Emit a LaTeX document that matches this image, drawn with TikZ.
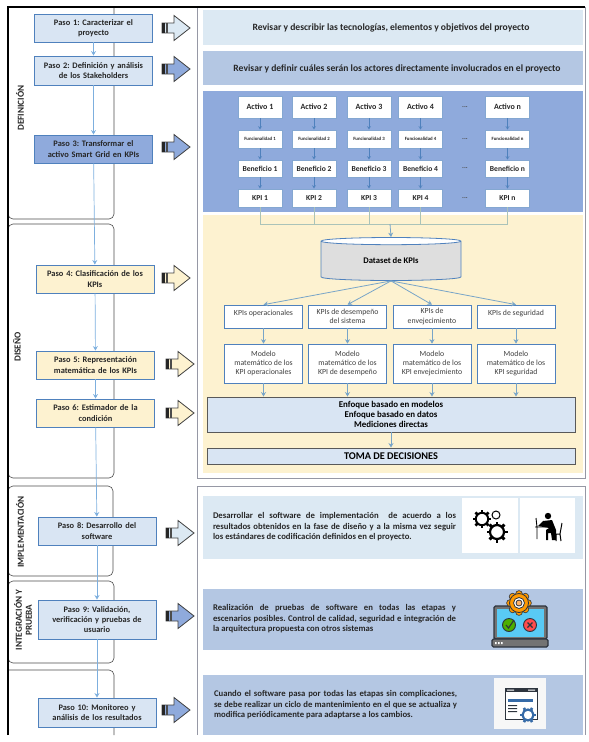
\documentclass[tikz,border=0pt]{standalone}
\usepackage{fontspec}
\setmainfont{Carlito}
\usepackage{tikz}
\usetikzlibrary{shapes.geometric, arrows.meta}
\definecolor{lightb}{RGB}{220, 233, 243}
\definecolor{midb}{RGB}{180, 199, 227}
\definecolor{darkb}{RGB}{143, 170, 220}
\definecolor{lighty}{RGB}{253, 242, 208}
\definecolor{stepb}{RGB}{217, 229, 243}
\definecolor{edge}{RGB}{79, 129, 189}
\definecolor{flow}{RGB}{125, 175, 222}
\definecolor{teal}{RGB}{120, 165, 200}
\definecolor{collect}{RGB}{170, 195, 185}
\definecolor{frame}{RGB}{150, 152, 165}
\definecolor{ink}{RGB}{38, 38, 38}
\definecolor{icondark}{RGB}{45, 52, 62}

\begin{document}
\frenchspacing
\begin{tikzpicture}[
   x=1pt, y=-1pt,
   lane/.style={draw=black!70, line width=0.6, rounded corners=5},
   panel/.style={inner sep=0, anchor=north west},
   paneltxt/.style={font=\fontsize{9.6}{11}\selectfont\bfseries, text=ink},
   justtxt/.style={font=\fontsize{8.7}{10.5}\selectfont\bfseries, text=ink, text width=243,
                    align=justify, inner sep=0},
   stepbox/.style={draw=edge, line width=0.9, text=ink, text width=115, align=center, inner sep=0,
                   minimum width=118, font=\fontsize{8.4}{10.2}\selectfont\bfseries},
   lanetxt/.style={rotate=90, align=center, text=ink, inner sep=0,
                   font=\fontsize{9.2}{10}\selectfont\bfseries},
   smallbox/.style={draw=edge!70, fill=white, line width=0.7, text=ink, inner sep=0, minimum width=44},
   typebox/.style={draw=edge, fill=white, line width=0.7, text=black!75, inner sep=0, align=center,
                   minimum width=78, font=\fontsize{7.8}{9.4}\selectfont},
   widebox/.style={draw=black!65, fill=stepb, line width=0.9, inner sep=0, align=center,
                   minimum width=368, text=black, font=\fontsize{8.9}{10.3}\selectfont\bfseries},
   flowline/.style={-{Stealth[length=4.5pt, width=5pt]}, color=flow, line width=0.7},
   smallline/.style={-{Stealth[open, fill=white, length=3.5pt, width=4pt]}, color=edge, line width=0.6},
   greenline/.style={-{Stealth[length=4.5pt, width=5pt]}, color=teal, line width=0.8},
   gearicon/.pic={
     \draw[line width=#1*0.32] (0,0) circle (#1);
     \foreach \a in {0,45,...,315} {
       \draw[line width=#1*0.42] (\a:#1) -- (\a:{#1*1.5});
     }
   }
  ]

  \useasboundingbox (0, 0) rectangle (589, 742);

  % Swim lanes
  \draw[lane] (8, -10) rectangle (114, 219);
  \draw[lane] (8, 224) rectangle (114, 478);
  \draw[lane] (8, 486) rectangle (113, 576);
  \draw[lane] (8, 581) rectangle (114, 663);
  \draw[lane] (8, 670) -- (114, 670) -- (114, 735);
  \fill[white] (0, -12) rectangle (120, 6);
  \fill[white] (0, 0) rectangle (7.5, 742);

  % Frames
  \draw[frame, line width=1.0] (197, 7) -- (197, 478) -- (585, 478) -- (585, 7);
  \draw[frame, line width=1.0] (197, 735) -- (197, 486) -- (585, 486) -- (585, 735);
  \draw[black, line width=1.1] (8, 735) -- (8, 7) -- (585, 7);

  % Panels
  \node (R1) at (203, 10) [panel, fill=lightb, minimum width=380, minimum height=35] {};
  \node (R2) at (203, 51) [panel, fill=midb, minimum width=380, minimum height=34] {};
  \node (R3) at (203, 91) [panel, fill=darkb, minimum width=380, minimum height=121] {};
  \node (R4) at (203, 215) [panel, fill=lighty, minimum width=380, minimum height=258] {};
  \node (R5) at (203, 496) [panel, fill=lightb, minimum width=380, minimum height=63] {};
  \node (R6) at (203, 589) [panel, fill=midb, minimum width=380, minimum height=61] {};
  \node (R7) at (203, 675) [panel, fill=midb, minimum width=380, minimum height=60] {};

  \node (T1) at (391, 28) [paneltxt] {Revisar y describir las tecnologías, elementos y objetivos del proyecto};
  \node (T2) at (397, 69) [paneltxt] {Revisar y definir cuáles serán los actores directamente involucrados en el proyecto};
  \node (T5) at (334.5, 527) [justtxt] {Desarrollar el software de implementación \ de acuerdo a los\linebreak
    resultados obtenidos en la fase de diseño y a la misma vez seguir\linebreak
    los estándares de codificación definidos en el proyecto.};
  \node (T6) at (334.5, 619) [justtxt] {Realización de pruebas de software en todas las etapas y\linebreak
    escenarios posibles. Control de calidad, seguridad e integración de\linebreak
    la arquitectura propuesta con otros sistemas};
  \node (T7) at (335.5, 705) [justtxt] {Cuando el software pasa por todas las etapas sin complicaciones,\linebreak
    se debe realizar un ciclo de mantenimiento en el que se actualiza y\linebreak
    modifica periódicamente para adaptarse a los cambios.};

  % Steps
  \node (P1) at (93.5, 28) [stepbox, fill=stepb, minimum height=28] {Paso 1: Caracterizar el\\proyecto};
  \node (P2) at (93.5, 70.5) [stepbox, fill=stepb, minimum height=29] {Paso 2: Definición y análisis\\de los Stakeholders};
  \node (P3) at (93.5, 149) [stepbox, fill=darkb, minimum height=28] {Paso 3: Transformar el\\activo Smart Grid en KPIs};
  \node (P4) at (95, 279) [stepbox, fill=lighty, minimum height=28] {Paso 4: Clasificación de los\\KPIs};
  \node (P5) at (95.5, 365) [stepbox, fill=lighty, minimum height=28] {Paso 5: Representación\\matemática de los KPIs};
  \node (P6) at (95.5, 413) [stepbox, fill=lighty, minimum height=28] {Paso 6: Estimador de la\\condición};
  \node (P8) at (97, 531) [stepbox, fill=stepb, minimum height=28] {Paso 8: Desarrollo del\\software};
  \node (P9) at (97, 619.5) [stepbox, fill=stepb, minimum height=39] {Paso 9: Validación,\\verificación y pruebas de\\usuario};
  \node (P10) at (97, 712.5) [stepbox, fill=stepb, minimum height=29] {Paso 10: Monitoreo y\\análisis de los resultados};

  \foreach \B/\E in {P1/P2, P2/P3, P3/P4, P4/P5, P5/P6, P6/P8, P8/P9, P9/P10} {
    \draw[flowline] (\B) -- (\E);
  }

  \node (L1) at (20, 108) [lanetxt] {DEFINICIÓN};
  \node (L2) at (17, 347) [lanetxt] {DISEÑO};
  \node (L3) at (20, 532) [lanetxt] {IMPLEMENTACIÓN};
  \node (L4) at (23, 620) [lanetxt] {INTEGRACIÓN Y\\PRUEBA};

  % Block arrows
  \foreach \X/\Y/\C in {162/28/lightb, 162/69/darkb, 162/147/darkb, 162/278/lighty, 166/364/lighty,
                        166/413/lighty, 166/533/lightb, 166/616/darkb, 162/710/darkb} {
    \begin{scope}[shift={(\X, \Y)}]
      \draw[black!75, fill=\C, line width=0.8, line join=miter]
        (0, -5) -- (12, -5) -- (12, -12.5) -- (28, 0) -- (12, 12.5) -- (12, 5) -- (0, 5) -- cycle;
      \fill[black!85] (0, -5) rectangle (3, 5);
      \fill[black!70] (4, -5) rectangle (5.5, 5);
    \end{scope}
  }

  % Assets matrix
  \foreach \X/\I in {260/1, 314/2, 369/3, 420.5/4, 507.5/n} {
    \node (A\I) at (\X, 107) [smallbox, minimum height=22, font=\fontsize{8}{9}\selectfont\bfseries] {Activo \I};
    \node (F\I) at (\X, 139) [smallbox, minimum height=18, font=\fontsize{4.8}{6}\selectfont\bfseries] {Funcionalidad \I};
    \node (B\I) at (\X, 168.5) [smallbox, minimum height=17, font=\fontsize{7.6}{9}\selectfont\bfseries] {Beneficio \I};
    \node (K\I) at (\X, 198) [smallbox, minimum height=18, font=\fontsize{7.6}{9}\selectfont\bfseries] {KPI \I};
    \draw[smallline] (A\I) -- (F\I);
    \draw[smallline] (F\I) -- (B\I);
    \draw[smallline] (B\I) -- (K\I);
  }
  \foreach \Y/\I in {107/1, 139/2, 168.5/3, 198/4} {
    \node (D\I) at (465, \Y) [inner sep=0, text=black!70, font=\fontsize{7}{9}\selectfont\bfseries] {...};
  }

  % Dataset
  \coordinate (J0) at (390, 224);
  \foreach \I in {1, 2, 3, 4, n} {
    \draw[color=collect, line width=0.7] (K\I.south) |- (J0);
  }
  \node (DS) at (391, 261) [cylinder, shape border rotate=90, aspect=0.13, draw=edge, line width=0.8,
                            cylinder uses custom fill, cylinder body fill=black!13,
                            cylinder end fill=white, inner sep=0, minimum width=140, minimum height=43,
                            text=black, font=\fontsize{8.6}{9}\selectfont\bfseries] {Dataset de KPIs};
  \draw[greenline] (J0) -- (DS.north);

  % KPI families
  \node (C1) at (263.5, 316.5) [typebox, minimum height=23] {KPIs operacionales\\[-4pt]\strut};
  \node (C2) at (347.5, 316.5) [typebox, minimum height=23] {KPIs de desempeño\\del sistema};
  \node (C3) at (432, 316.5) [typebox, minimum height=23] {KPIs de\\envejecimiento};
  \node (C4) at (516, 316.5) [typebox, minimum height=23] {KPIs de seguridad\\[-4pt]\strut};

  \node (M1) at (263.5, 363.5) [typebox, minimum height=39] {Modelo\\matemático de los\\KPI operacionales};
  \node (M2) at (347.5, 363.5) [typebox, minimum height=39] {Modelo\\matemático de los\\KPI de desempeño};
  \node (M3) at (432, 363.5) [typebox, minimum height=39] {Modelo\\matemático de los\\KPI envejecimiento};
  \node (M4) at (516, 363.5) [typebox, minimum height=39] {Modelo\\matemático de los\\KPI seguridad};

  \node (E1) at (391, 414.5) [widebox, minimum height=35] {Enfoque basado en modelos\\Enfoque basado en datos\\Mediciones directas};
  \node (E2) at (391, 456) [widebox, minimum height=16, font=\fontsize{10.3}{12}\selectfont\bfseries] {TOMA DE DECISIONES};

  \foreach \I in {1, 2, 3, 4} {
    \draw[greenline] (DS.south) -- (C\I.north);
    \draw[greenline] (C\I) -- (M\I);
    \draw[greenline] (M\I.south) -- (M\I.south |- E1.north);
  }
  \draw[greenline] (E1) -- (E2);

  % Icons
  \node (W1) at (462, 498) [panel, fill=white, minimum width=56, minimum height=55] {};
  \node (W2) at (520, 498) [panel, fill=white, minimum width=55, minimum height=55] {};
  \pic at (482, 519) {gearicon=6.2};
  \pic at (497, 532) {gearicon=7};
  \draw[black, line width=1] (496, 515) circle (4);

  \fill[black] (548, 516) circle (3.2);
  \fill[black] (543, 521) -- (552, 520) -- (556, 530) -- (556, 540) -- (552, 540) -- (551, 533) -- (548, 533)
    -- (548, 540) -- (546, 540) -- (546, 530) -- (549, 528) -- (538, 526) -- cycle;
  \draw[black, line width=0.9] (535, 527) -- (546, 527) (537, 527) -- (537, 539) (536, 518) -- (537, 527);
  \draw[black, line width=1] (562, 523) -- (560, 534) -- (555, 534) (560, 534) -- (561, 541) (556, 534) -- (556, 541);

  \draw[icondark, fill=black!55, line width=1.2, rounded corners=1.5] (494, 606) rectangle (547, 639);
  \fill[cyan!65!white] (497, 609) rectangle (544, 637);
  \draw[icondark, fill=black!55, line width=1.2, rounded corners=1.5] (492, 639) rectangle (548, 647);
  \fill[white] (495, 642) rectangle (496.5, 644) (498, 642) rectangle (499.5, 644) (501, 642) rectangle (502.5, 644);
  \foreach \a in {0,45,...,315} {
    \draw[icondark, fill=orange!80!yellow, line width=0.6] (519, 603) ++(\a:9) circle (3.4);
  }
  \draw[icondark, fill=orange!80!yellow, line width=0.8] (519, 603) circle (9.5);
  \draw[icondark, fill=white, line width=0.8] (519, 603) circle (5.5);
  \draw[icondark, fill=orange!60, line width=0.8] (519, 603) circle (3);
  \draw[icondark, fill=green!55!black!70!yellow, line width=0.9] (509, 625) circle (6.5);
  \draw[icondark, line width=1.1] (506, 625) -- (508.5, 628) -- (514, 620);
  \draw[icondark, fill=red!70!white, line width=0.9] (530, 625) circle (6.5);
  \draw[icondark, line width=1.2] (527.5, 622.5) -- (532.5, 627.5) (527.5, 627.5) -- (532.5, 622.5);

  \node (W3) at (494, 678) [panel, fill=black!3, minimum width=52, minimum height=51] {};
  \draw[icondark, fill=white, line width=0.8] (505, 688) rectangle (537, 719);
  \fill[icondark] (505, 688) rectangle (537, 692);
  \fill[white] (507, 689.5) rectangle (514, 690.5) (528, 689.5) rectangle (535, 690.5);
  \fill[cyan!50!blue!80!black] (508, 699) rectangle (533, 702);
  \fill[icondark] (508, 705) rectangle (517, 706) (508, 708) rectangle (517, 709) (508, 711) rectangle (517, 712);
  \draw[cyan!50!blue!80!black, fill=white, line width=2.2] (528, 715) circle (5.5);
  \foreach \a in {0,60,...,300} {
    \draw[cyan!50!blue!80!black, line width=2.6] (528, 715) ++(\a:6) -- ++(\a:2.2);
  }

\end{tikzpicture}
\end{document}
